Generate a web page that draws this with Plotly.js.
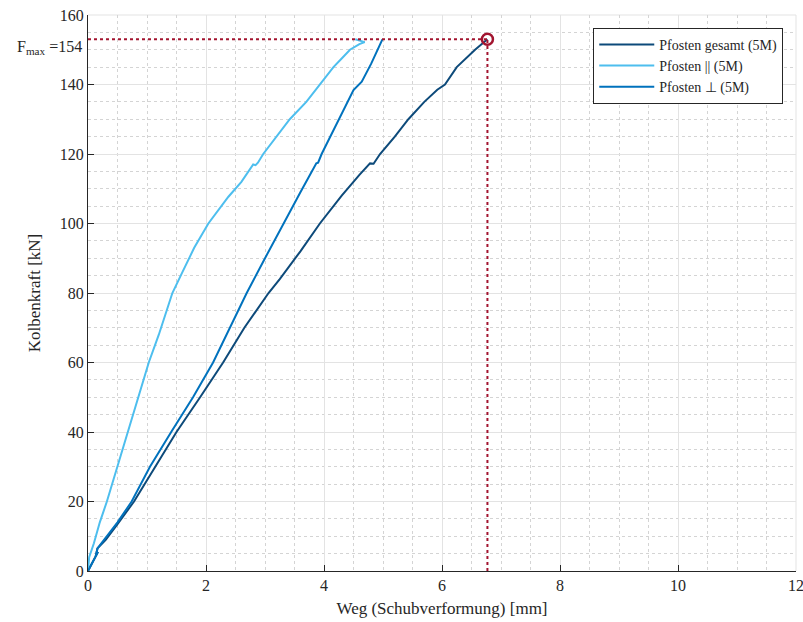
<!DOCTYPE html>
<html>
<head>
<meta charset="utf-8">
<script src="https://cdn.plot.ly/plotly-3.0.1.min.js"></script>
<style>html,body{margin:0;padding:0;background:#fff;}#chart{width:803px;height:622px;}</style>
</head>
<body>
<div id="chart"></div>
<script>
// Pfosten gesamt (5M)
const gesamtX = [0,0.08,0.15,0.17,0.13,0.16,0.3,0.5,0.78,1.14,1.5,1.9,2.29,2.65,3.06,3.25,3.6,3.93,4.3,4.6,4.78,4.84,4.95,5.2,5.43,5.7,5.92,6.05,6.25,6.56,6.77];
const gesamtY = [0,2.5,4.5,5.5,4.2,6.5,9,13.5,20,30,40,50,60,70,80,84,92,100,108,114,117.3,117.2,120,125,130,135,138.5,140,145,150,153];
// Pfosten || (5M)
const parX = [0,0.02,0.1,0.2,0.32,0.5,0.67,0.85,1.03,1.2,1.33,1.43,1.6,1.8,2.04,2.38,2.6,2.8,2.84,2.88,2.97,3.2,3.42,3.7,3.93,4.05,4.16,4.3,4.44,4.6,4.69,4.53];
const parY = [0,4,8,14,20,30,40,50,60,68,75,80,86,93,100,107.7,112,117,116.8,117.5,120,125,130,135,140,142.8,145,147.5,150,151.6,152.2,153];
// Pfosten ⊥ (5M)
const perpX = [0,0.08,0.15,0.17,0.13,0.16,0.3,0.5,0.74,1.05,1.41,1.78,2.12,2.4,2.69,3.0,3.31,3.6,3.87,3.9,3.96,4.2,4.5,4.64,4.8,4.99];
const perpY = [0,2.5,4.5,5.5,4.2,6.5,9.5,14,20,30,40,50,60,70,80,90,100,109,117.3,117.5,120,128,138.4,140.8,146,153];
// F_max point
const fmaxX = [6.77];
const fmaxY = [153];
const fmaxLabel = 154;
const xTicks = [0,2,4,6,8,10,12];
const yTicks = [0,20,40,60,80,100,120,140,160];

const FONT = "'Liberation Serif', 'Times New Roman', serif";
const TXT = '#262626';
const red = '#A2142F';
const traces = [
  {x: gesamtX, y: gesamtY, mode: 'lines', name: 'Pfosten gesamt (5M)', line: {color: '#0d4a7a', width: 2}},
  {x: parX, y: parY, mode: 'lines', name: 'Pfosten || (5M)', line: {color: '#4DBEEE', width: 2}},
  {x: perpX, y: perpY, mode: 'lines', name: 'Pfosten \u22A5 (5M)', line: {color: '#0072BD', width: 2}},
  {x: [0, fmaxX[0]], y: [fmaxY[0], fmaxY[0]], mode: 'lines', showlegend: false, line: {color: red, width: 2, dash: 'dot'}},
  {x: [fmaxX[0], fmaxX[0]], y: [0, fmaxY[0]], mode: 'lines', showlegend: false, line: {color: red, width: 2, dash: 'dot'}},
  {x: fmaxX, y: fmaxY, mode: 'markers', showlegend: false, marker: {symbol: 'circle-open', size: 11, color: red, line: {width: 2.5, color: red}}}
];

const layout = {
  width: 803, height: 622,
  margin: {l: 88, r: 7, t: 15, b: 51},
  paper_bgcolor: '#fff', plot_bgcolor: '#fff',
  font: {family: FONT, size: 15, color: TXT},
  showlegend: true,
  legend: {x: 0.982, xanchor: 'right', y: 0.977, yanchor: 'top', bgcolor: '#fff', bordercolor: TXT, borderwidth: 1, itemwidth: 55, font: {family: FONT, size: 14, color: TXT}, tracegroupgap: 0},
  xaxis: {
    range: [0, 12], tickvals: xTicks, ticktext: xTicks.map(String),
    showline: true, linecolor: TXT, linewidth: 1, mirror: false,
    ticks: 'inside', ticklen: 6, tickcolor: TXT, ticklabeloverflow: 'allow',
    showgrid: true, gridcolor: '#e3e3e3', gridwidth: 1, zeroline: false,
    minor: {dtick: 0.5, showgrid: true, gridcolor: '#d4d4d4', griddash: 'dot', gridwidth: 1},
    title: {text: 'Weg (Schubverformung) [mm]', font: {family: FONT, size: 17, color: TXT}, standoff: 8},
    tickfont: {family: FONT, size: 16, color: TXT}
  },
  yaxis: {
    range: [0, 160], tickvals: yTicks, ticktext: yTicks.map(String),
    showline: true, linecolor: TXT, linewidth: 1, mirror: false,
    ticks: 'inside', ticklen: 6, tickcolor: TXT, ticklabeloverflow: 'allow',
    showgrid: true, gridcolor: '#e3e3e3', gridwidth: 1, zeroline: false,
    minor: {dtick: 5, showgrid: true, gridcolor: '#d4d4d4', griddash: 'dot', gridwidth: 1},
    title: {text: 'Kolbenkraft [kN]', font: {family: FONT, size: 17, color: TXT}, standoff: 14},
    tickfont: {family: FONT, size: 16, color: TXT}
  },
  shapes: [
    {type: 'line', xref: 'paper', yref: 'paper', x0: 0, x1: 1, y0: 1, y1: 1, line: {color: '#e3e3e3', width: 1}, layer: 'below'},
    {type: 'line', xref: 'paper', yref: 'paper', x0: 1, x1: 1, y0: 0, y1: 1, line: {color: '#e3e3e3', width: 1}, layer: 'below'}
  ],
  annotations: [
    {xref: 'paper', yref: 'y', x: 0, y: fmaxY[0], xanchor: 'right', yanchor: 'middle', xshift: -4, yshift: -8, showarrow: false,
     text: 'F<sub>max</sub> =' + fmaxLabel, font: {family: FONT, size: 16, color: TXT}}
  ]
};

Plotly.newPlot('chart', traces, layout, {displayModeBar: false, staticPlot: true});
</script>
</body>
</html>
